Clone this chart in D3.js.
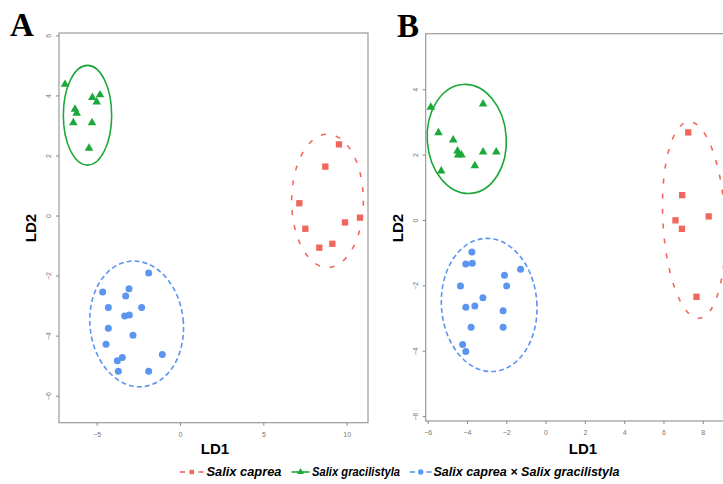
<!DOCTYPE html>
<html lang="en">
<head>
<meta charset="UTF-8">
<title>LDA plots A and B</title>
<script src="https://d3js.org/d3.v7.min.js"></script>
<style>
  body { margin: 0; background: #fff; }
  svg { display: block; font-family: "Liberation Sans", Arial, sans-serif; }
</style>
</head>
<body>
<div id="chart"></div>
<script>
// ---- data ----
// Panel A  [LD1, LD2]
const aCaprea = [[9.54, 2.37], [8.72, 1.63], [7.16, 0.41], [9.9, -0.23], [10.8, -0.07],
                 [7.52, -0.44], [8.36, -1.07], [9.14, -0.94]];
const aGracilistyla = [[-6.9, 4.37], [-6.3, 3.54], [-6.2, 3.41], [-6.4, 3.09], [-5.26, 3.93],
                       [-5.0, 3.78], [-4.8, 4.02], [-5.28, 3.09], [-5.46, 2.24]];
const aHybrid = [[-1.88, -1.91], [-4.64, -2.55], [-3.06, -2.44], [-3.26, -2.68], [-4.3, -3.06],
                 [-2.3, -3.06], [-3.32, -3.35], [-3.04, -3.31], [-4.3, -3.75], [-2.82, -3.99],
                 [-4.44, -4.29], [-1.06, -4.63], [-3.46, -4.73], [-3.76, -4.84], [-3.7, -5.19],
                 [-1.88, -5.19]];
// Panel B
const bCaprea = [[7.26, 2.68], [6.95, 0.76], [6.61, -0.01], [8.3, 0.11], [6.94, -0.27], [7.68, -2.35]];
const bGracilistyla = [[-5.84, 3.45], [-5.45, 2.67], [-4.7, 2.45], [-4.48, 2.11], [-4.45, 1.99],
                       [-4.28, 1.99], [-3.18, 3.55], [-3.18, 2.08], [-2.51, 2.08], [-3.6, 1.66],
                       [-5.31, 1.5]];
const bHybrid = [[-3.75, -0.98], [-4.06, -1.35], [-3.73, -1.32], [-1.27, -1.51], [-2.09, -1.69],
                 [-4.33, -2.02], [-1.98, -2.02], [-3.19, -2.38], [-4.06, -2.67], [-3.6, -2.63],
                 [-2.16, -2.78], [-3.79, -3.28], [-2.16, -3.28], [-4.22, -3.81], [-4.06, -4.02]];

// confidence ellipses: [centre LD1, centre LD2, radius LD1, radius LD2, tilt deg]
const aEllipses = { caprea: [8.85, 0.49, 2.15, 2.22, 0], gracilistyla: [-5.55, 3.34, 1.45, 1.66, 0],
                    hybrid: [-2.6, -3.61, 2.8, 2.1, -6] };
const bEllipses = { caprea: [7.55, 0.0, 1.58, 3.01, -3], gracilistyla: [-4.01, 2.48, 2.01, 1.67, -4],
                    hybrid: [-2.87, -2.6, 2.43, 2.04, -4] };

const aXTicks = [-5, 0, 5, 10];
const aYTicks = [-6, -4, -2, 0, 2, 4, 6];
const bXTicks = [-6, -4, -2, 0, 2, 4, 6, 8];
const bYTicks = [-6, -4, -2, 0, 2, 4];

const legendLabels = ["Salix caprea", "Salix gracilistyla", "Salix caprea \u00d7 Salix gracilistyla"];

const colors = { caprea: "#f2675d", gracilistyla: "#1ca83a", hybrid: "#5b95f0" };

const svg = d3.select("#chart").append("svg")
  .attr("width", 723)
  .attr("height", 484);

function drawPanel(opt) {
  const x = d3.scaleLinear().domain(opt.xDomain).range(opt.xRange);
  const y = d3.scaleLinear().domain(opt.yDomain).range(opt.yRange);
  const g = svg.append("g");

  // box
  g.append("rect")
    .attr("x", opt.xRange[0]).attr("y", opt.yRange[1])
    .attr("width", opt.xRange[1] - opt.xRange[0])
    .attr("height", opt.yRange[0] - opt.yRange[1])
    .attr("fill", "none").attr("stroke", "#9a9a9a").attr("stroke-width", 1.2);

  // axes
  const xAxis = g.append("g")
    .attr("transform", `translate(0,${opt.yRange[0]})`)
    .call(d3.axisBottom(x).tickValues(opt.xTicks).tickSize(3).tickPadding(6).tickFormat(d3.format("d")));
  const yAxis = g.append("g")
    .attr("transform", `translate(${opt.xRange[0]},0)`)
    .call(d3.axisLeft(y).tickValues(opt.yTicks).tickSize(3).tickPadding(7).tickFormat(d3.format("d")));
  [xAxis, yAxis].forEach(a => {
    a.select(".domain").remove();
    a.selectAll("line").attr("stroke", "#888");
    a.selectAll("text").attr("fill", "#777").style("font-size", "7px");
  });
  yAxis.selectAll("text")
    .attr("text-anchor", "middle")
    .attr("dy", 0)
    .attr("transform", function () {
      const t = d3.select(this);
      return `translate(${+t.attr("x") + 2},0) rotate(-90)`;
    })
    .attr("x", 0).attr("y", 0);

  // ellipses
  const dash = { caprea: "5,10", gracilistyla: null, hybrid: "5,3" };
  Object.entries(opt.ellipses).forEach(([k, e]) => {
    const cx = x(e[0]), cy = y(e[1]);
    g.append("ellipse")
      .attr("cx", cx).attr("cy", cy)
      .attr("rx", x(e[0] + e[2]) - cx)
      .attr("ry", cy - y(e[1] + e[3]))
      .attr("transform", `rotate(${e[4]},${cx},${cy})`)
      .attr("fill", "none")
      .attr("stroke", colors[k])
      .attr("stroke-width", 1.6)
      .attr("stroke-dasharray", dash[k]);
  });

  // points
  g.selectAll(".sq").data(opt.caprea).join("path")
    .attr("d", d3.symbol(d3.symbolSquare, 40))
    .attr("transform", d => `translate(${x(d[0])},${y(d[1])})`)
    .attr("fill", colors.caprea);
  g.selectAll(".tri").data(opt.gracilistyla).join("path")
    .attr("d", d3.symbol(d3.symbolTriangle, 32))
    .attr("transform", d => `translate(${x(d[0])},${y(d[1])})`)
    .attr("fill", colors.gracilistyla);
  g.selectAll(".dot").data(opt.hybrid).join("circle")
    .attr("cx", d => x(d[0])).attr("cy", d => y(d[1]))
    .attr("r", 3.5)
    .attr("fill", colors.hybrid);

  // axis titles and panel letter
  g.append("text").attr("x", opt.ld1[0]).attr("y", opt.ld1[1])
    .attr("text-anchor", "middle").attr("dominant-baseline", "central")
    .style("font-size", "15px").style("font-weight", "bold").text("LD1");
  g.append("text")
    .attr("transform", `translate(${opt.ld2[0]},${opt.ld2[1]}) rotate(-90)`)
    .attr("text-anchor", "middle").attr("dominant-baseline", "central")
    .style("font-size", "15px").style("font-weight", "bold").text("LD2");
  g.append("text").attr("x", opt.letter[0]).attr("y", opt.letter[1])
    .style("font-family", "'Liberation Serif', 'Times New Roman', serif")
    .style("font-size", "33px").style("font-weight", "bold").text(opt.name);
}

drawPanel({
  name: "A",
  xDomain: [-7.26, 11.28], xRange: [59, 368],
  yDomain: [-6.9, 6.08], yRange: [422.7, 33],
  xTicks: aXTicks, yTicks: aYTicks,
  caprea: aCaprea, gracilistyla: aGracilistyla, hybrid: aHybrid,
  ellipses: aEllipses,
  ld1: [215, 448], ld2: [30, 228], letter: [10, 36]
});

drawPanel({
  name: "B",
  xDomain: [-6.1, 11.93], xRange: [425.7, 780],
  yDomain: [-6.15, 5.7], yRange: [421, 33.7],
  xTicks: bXTicks, yTicks: bYTicks,
  caprea: bCaprea, gracilistyla: bGracilistyla, hybrid: bHybrid,
  ellipses: bEllipses,
  ld1: [583, 448], ld2: [397.5, 228], letter: [397, 37]
});

// legend
const legend = svg.append("g").attr("transform", "translate(0,472)");
const legendKeys = [
  { key: "caprea", x0: 180, x1: 203.5, text: 206.5, len: 75 },
  { key: "gracilistyla", x0: 291.5, x1: 309.5, text: 312, len: 88 },
  { key: "hybrid", x0: 410, x1: 431.5, text: 433.5, len: 186 }
];
legendKeys.forEach((k, i) => {
  const c = colors[k.key];
  const mid = (k.x0 + k.x1) / 2;
  if (k.key === "gracilistyla") {
    legend.append("line")
      .attr("x1", k.x0).attr("x2", k.x1).attr("y1", 0).attr("y2", 0)
      .attr("stroke", c).attr("stroke-width", 1.6);
  } else {
    [[k.x0, k.x0 + 5], [k.x1 - 5, k.x1]].forEach(s => {
      legend.append("line")
        .attr("x1", s[0]).attr("x2", s[1]).attr("y1", 0).attr("y2", 0)
        .attr("stroke", c).attr("stroke-width", 1.6);
    });
  }
  if (k.key === "caprea") {
    legend.append("path").attr("d", d3.symbol(d3.symbolSquare, 20))
      .attr("transform", `translate(${mid},0)`).attr("fill", c);
  } else if (k.key === "gracilistyla") {
    legend.append("path").attr("d", d3.symbol(d3.symbolTriangle, 20))
      .attr("transform", `translate(${mid},0)`).attr("fill", c);
  } else {
    legend.append("circle").attr("cx", mid).attr("cy", 0).attr("r", 2.7).attr("fill", c);
  }
  legend.append("text")
    .attr("x", k.text).attr("y", 0)
    .attr("dominant-baseline", "central")
    .attr("textLength", k.len).attr("lengthAdjust", "spacingAndGlyphs")
    .style("font-size", "12px").style("font-weight", "bold").style("font-style", "italic")
    .text(legendLabels[i]);
});
</script>
</body>
</html>
